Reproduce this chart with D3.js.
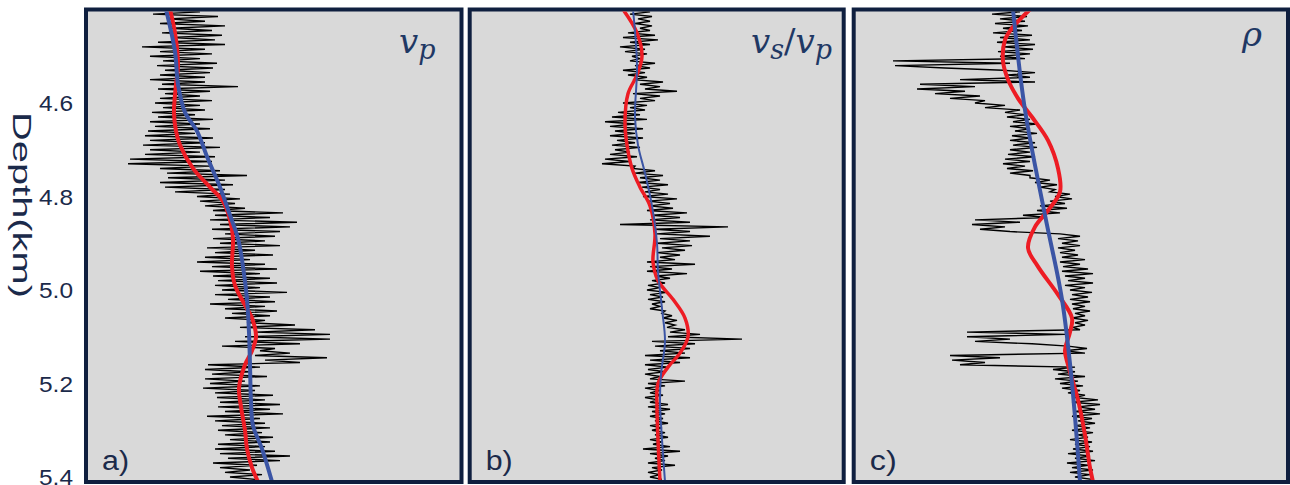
<!DOCTYPE html>
<html>

<head>
  <meta charset="utf-8" />
  <title>Well logs</title>
  <style>
    body {
      margin: 0;
      background: #fff;
    }

    .frame {
      fill: #d9d9d9;
      stroke: #0f1f3f;
      stroke-width: 4px;
    }

    .log {
      fill: none;
      stroke: #000;
      stroke-width: 1.4px;
    }

    .math {
      font-family: "DejaVu Serif", serif;
      font-style: italic;
      fill: #1f3864;
    }

    .plabel {
      font-family: "Liberation Sans", Arial, sans-serif;
      font-size: 27px;
      fill: #1b2a4a;
    }
  </style>
  <script src="https://cdnjs.cloudflare.com/ajax/libs/d3/7.8.5/d3.min.js"></script>
</head>

<body>
  <div id="chart"></div>
  <script>
    // depth ticks (km)
    var depthTicks = [4.6, 4.8, 5.0, 5.2, 5.4];
    // log samples every 10 m from 4.40 km, left / right excursion of the trace
    var logDepth = d3.range(101).map(i => +(4.40 + i * 0.01).toFixed(2));

    var vpLo = [2.78, 2.66, 2.81, 2.73, 2.83, 2.75, 2.85, 2.71, 2.55, 2.73, 2.63, 2.76, 2.70, 2.78, 2.73, 2.63, 2.75, 2.71, 2.78, 2.73,
      2.68, 2.76, 2.65, 2.71, 2.63, 2.68, 2.61, 2.58, 2.63, 2.56, 2.63, 2.58, 2.43, 2.41, 2.73, 2.80, 2.81, 2.73, 2.78, 2.88,
      3.10, 3.13, 3.18, 3.26, 3.28, 3.23, 3.33, 3.25, 3.38, 3.26, 3.33, 3.20, 3.28, 3.18, 3.10, 3.25, 3.13, 3.26, 3.31, 3.28,
      3.35, 3.28, 3.41, 3.23, 3.38, 3.45, 3.38, 3.60, 3.53, 3.68, 3.58, 3.48, 3.35, 3.73, 3.68, 3.78, 3.21, 3.18, 3.25, 3.18,
      3.23, 3.16, 3.28, 3.30, 3.33, 3.31, 3.38, 3.20, 3.28, 3.35, 3.31, 3.38, 3.43, 3.31, 3.28, 3.33, 3.41, 3.26, 3.33, 3.38, 3.43];
    var vpHi = [3.13, 3.31, 3.18, 3.38, 3.25, 3.35, 3.28, 3.38, 3.18, 3.25, 3.13, 3.30, 3.26, 3.23, 3.18, 3.18, 3.51, 3.23, 3.13, 3.25,
      3.13, 3.18, 3.08, 3.26, 3.13, 3.23, 3.08, 3.26, 3.18, 3.33, 3.13, 3.28, 3.25, 3.23, 3.33, 3.60, 3.38, 3.46, 3.38, 3.43,
      3.53, 3.48, 3.58, 3.96, 3.83, 4.10, 4.03, 3.93, 3.88, 3.78, 3.93, 3.68, 3.86, 3.63, 3.78, 3.90, 3.73, 3.83, 3.90, 3.73,
      4.00, 3.83, 3.88, 3.78, 3.90, 3.83, 3.78, 4.08, 4.28, 4.43, 4.43, 4.13, 3.88, 4.03, 4.40, 4.13, 3.73, 3.63, 3.80, 3.58,
      3.73, 3.68, 3.86, 3.78, 3.93, 3.83, 3.96, 3.73, 3.78, 3.83, 3.75, 3.86, 3.83, 3.78, 3.88, 4.03, 3.93, 3.70, 3.63, 3.75, 3.68];

    var vsvpLo = [0.509, 0.509, 0.517, 0.514, 0.519, 0.507, 0.502, 0.509, 0.499, 0.504, 0.511, 0.509, 0.514, 0.502, 0.507, 0.512, 0.519, 0.524, 0.512, 0.519,
      0.502, 0.509, 0.497, 0.491, 0.484, 0.489, 0.494, 0.489, 0.496, 0.491, 0.494, 0.489, 0.484, 0.481, 0.512, 0.514, 0.519, 0.517, 0.521, 0.524,
      0.522, 0.527, 0.529, 0.526, 0.531, 0.529, 0.499, 0.534, 0.536, 0.539, 0.536, 0.541, 0.536, 0.539, 0.526, 0.529, 0.526, 0.534, 0.531, 0.527,
      0.526, 0.529, 0.527, 0.531, 0.529, 0.541, 0.542, 0.544, 0.546, 0.549, 0.547, 0.531, 0.534, 0.539, 0.524, 0.529, 0.524, 0.527, 0.524, 0.529,
      0.527, 0.524, 0.529, 0.524, 0.529, 0.527, 0.531, 0.529, 0.534, 0.529, 0.531, 0.534, 0.529, 0.532, 0.522, 0.529, 0.534, 0.527, 0.531, 0.527, 0.529];
    var vsvpHi = [0.529, 0.531, 0.529, 0.531, 0.529, 0.534, 0.537, 0.529, 0.524, 0.526, 0.519, 0.534, 0.529, 0.524, 0.526, 0.542, 0.539, 0.556, 0.539, 0.534,
      0.526, 0.524, 0.519, 0.526, 0.514, 0.522, 0.514, 0.522, 0.514, 0.519, 0.509, 0.516, 0.509, 0.514, 0.534, 0.542, 0.539, 0.547, 0.539, 0.547,
      0.556, 0.549, 0.552, 0.566, 0.559, 0.569, 0.607, 0.569, 0.589, 0.569, 0.571, 0.564, 0.559, 0.554, 0.574, 0.551, 0.566, 0.549, 0.544, 0.539,
      0.546, 0.542, 0.544, 0.539, 0.544, 0.551, 0.556, 0.554, 0.564, 0.579, 0.621, 0.574, 0.569, 0.564, 0.569, 0.559, 0.547, 0.544, 0.539, 0.564,
      0.544, 0.539, 0.542, 0.537, 0.547, 0.549, 0.544, 0.542, 0.547, 0.541, 0.544, 0.547, 0.541, 0.549, 0.559, 0.547, 0.544, 0.554, 0.541, 0.539, 0.541];

    var rhoLo = [1.990, 1.984, 2.000, 1.990, 2.006, 1.986, 2.000, 1.994, 2.006, 1.996, 2.000, 1.786, 1.790, 2.006, 2.016, 1.920, 1.840, 1.834, 1.870, 1.900,
      1.950, 1.970, 2.010, 2.014, 2.026, 2.020, 2.030, 2.024, 2.020, 2.026, 2.020, 2.016, 2.010, 2.006, 2.014, 2.020, 2.060, 2.070, 2.080, 2.100,
      2.110, 2.100, 2.080, 2.074, 2.046, 1.950, 1.944, 1.960, 2.120, 2.116, 2.124, 2.116, 2.120, 2.124, 2.120, 2.126, 2.124, 2.130, 2.136, 2.130,
      2.140, 2.144, 2.140, 2.144, 2.146, 2.150, 2.144, 2.150, 2.146, 1.934, 1.934, 1.950, 2.136, 2.130, 1.900, 1.904, 1.920, 2.106, 2.116, 2.110,
      2.120, 2.124, 2.136, 2.150, 2.144, 2.156, 2.150, 2.144, 2.156, 2.150, 2.144, 2.156, 2.140, 2.150, 2.146, 2.136, 2.150, 2.134, 2.144, 2.140, 2.150];
    var rhoHi = [2.040, 2.054, 2.050, 2.056, 2.044, 2.064, 2.060, 2.070, 2.066, 2.060, 2.050, 2.020, 1.890, 2.070, 2.060, 2.070, 1.950, 1.930, 1.960, 1.970,
      2.010, 2.040, 2.050, 2.060, 2.074, 2.060, 2.074, 2.060, 2.070, 2.074, 2.060, 2.070, 2.060, 2.050, 2.066, 2.060, 2.100, 2.114, 2.110, 2.140,
      2.144, 2.130, 2.134, 2.120, 2.094, 2.040, 2.010, 2.020, 2.160, 2.156, 2.160, 2.150, 2.156, 2.170, 2.160, 2.176, 2.186, 2.170, 2.186, 2.170,
      2.184, 2.176, 2.180, 2.170, 2.180, 2.170, 2.176, 2.170, 2.160, 2.130, 2.020, 2.064, 2.174, 2.170, 2.000, 1.970, 2.150, 2.150, 2.170, 2.156,
      2.166, 2.160, 2.170, 2.196, 2.200, 2.190, 2.200, 2.184, 2.190, 2.180, 2.186, 2.176, 2.184, 2.180, 2.186, 2.180, 2.190, 2.176, 2.186, 2.180, 2.184];

    // smooth models [depth km, value]
    var vpRed = [[4.40, 2.83], [4.45, 2.88], [4.52, 2.91], [4.56, 2.89], [4.62, 2.87], [4.66, 2.89], [4.69, 2.93], [4.74, 3.06],
      [4.78, 3.23], [4.81, 3.36], [4.85, 3.43], [4.89, 3.46], [4.95, 3.45], [4.99, 3.48], [5.04, 3.60], [5.06, 3.65], [5.10, 3.69],
      [5.13, 3.65], [5.16, 3.58], [5.21, 3.52], [5.25, 3.54], [5.30, 3.58], [5.34, 3.60], [5.38, 3.65], [5.41, 3.71]];
    var vpBlue = [[4.40, 2.79], [4.49, 2.88], [4.56, 2.91], [4.62, 2.98], [4.66, 3.10], [4.72, 3.21], [4.78, 3.33], [4.84, 3.43],
      [4.89, 3.51], [4.95, 3.56], [5.02, 3.60], [5.09, 3.62], [5.16, 3.63], [5.24, 3.64], [5.29, 3.66], [5.34, 3.75], [5.41, 3.85]];

    var vsvpRed = [[4.40, 0.502], [4.45, 0.516], [4.50, 0.521], [4.54, 0.516], [4.58, 0.507], [4.64, 0.504], [4.69, 0.506],
      [4.74, 0.511], [4.78, 0.519], [4.82, 0.529], [4.88, 0.534], [4.94, 0.532], [4.98, 0.537], [5.02, 0.552], [5.06, 0.564],
      [5.10, 0.567], [5.135, 0.559], [5.165, 0.547], [5.20, 0.537], [5.25, 0.536], [5.32, 0.537], [5.41, 0.539]];
    var vsvpBlue = [[4.40, 0.512], [4.52, 0.516], [4.63, 0.514], [4.69, 0.517], [4.75, 0.524], [4.82, 0.531], [4.90, 0.536],
      [4.96, 0.537], [5.04, 0.541], [5.11, 0.544], [5.18, 0.540], [5.24, 0.539], [5.32, 0.541], [5.41, 0.544]];

    var rhoRed = [[4.40, 2.060], [4.44, 2.024], [4.465, 2.010], [4.51, 2.006], [4.55, 2.016], [4.59, 2.036], [4.63, 2.064],
      [4.68, 2.096], [4.74, 2.116], [4.79, 2.120], [4.83, 2.096], [4.865, 2.070], [4.91, 2.056], [4.95, 2.076], [5.01, 2.116],
      [5.06, 2.144], [5.09, 2.140], [5.13, 2.130], [5.16, 2.136], [5.235, 2.156], [5.31, 2.170], [5.38, 2.180], [5.41, 2.186]];
    var rhoBlue = [[4.40, 2.026], [4.615, 2.050], [4.84, 2.090], [5.02, 2.124], [5.20, 2.144], [5.41, 2.160]];

    var panels = [
      { lo: vpLo, hi: vpHi, red: vpRed, blue: vpBlue, domain: [2.0, 5.75], range: [87, 462], frame: [86, 461.5], redW: 4, blueW: 4, tag: 'a)' },
      { lo: vsvpLo, hi: vsvpHi, red: vsvpRed, blue: vsvpBlue, domain: [0.35, 0.72], range: [471, 841], frame: [469.7, 843.7], redW: 3.5, blueW: 2, tag: 'b)' },
      { lo: rhoLo, hi: rhoHi, red: rhoRed, blue: rhoBlue, domain: [1.71, 2.57], range: [855, 1285], frame: [853.7, 1288], redW: 4, blueW: 4, tag: 'c)' }
    ];

    var W = 1290, H = 485;
    var frameTop = 9.5, frameBottom = 482;

    var svg = d3.select('#chart').append('svg')
      .attr('width', W)
      .attr('height', H);

    var y = d3.scaleLinear()
      .domain([4.4, 5.4])
      .range([9.5, 477]);

    panels.forEach(function (p, k) {
      var x = d3.scaleLinear().domain(p.domain).range(p.range);
      var g = svg.append('g');

      g.append('rect')
        .attr('class', 'frame')
        .attr('x', p.frame[0])
        .attr('y', frameTop)
        .attr('width', p.frame[1] - p.frame[0])
        .attr('height', frameBottom - frameTop);

      var clipId = 'clip' + k;
      svg.append('clipPath').attr('id', clipId)
        .append('rect')
        .attr('x', p.frame[0] + 2)
        .attr('y', frameTop + 2)
        .attr('width', p.frame[1] - p.frame[0] - 4)
        .attr('height', frameBottom - frameTop - 4);

      var inner = g.append('g').attr('clip-path', 'url(#' + clipId + ')');

      // zig-zag the trace between the left and right excursions
      var trace = [];
      logDepth.forEach(function (d, i) {
        trace.push([d, p.lo[i]]);
        trace.push([d + 0.005, p.hi[i]]);
      });

      var logLine = d3.line()
        .x(d => x(d[1]))
        .y(d => y(d[0]));

      inner.append('path')
        .attr('class', 'log')
        .attr('d', logLine(trace));

      var smooth = d3.line()
        .x(d => x(d[1]))
        .y(d => y(d[0]))
        .curve(d3.curveCatmullRom.alpha(0.5));

      inner.append('path')
        .attr('d', smooth(p.red))
        .attr('fill', 'none')
        .attr('stroke', '#ed1c24')
        .attr('stroke-width', p.redW);

      inner.append('path')
        .attr('d', smooth(p.blue))
        .attr('fill', 'none')
        .attr('stroke', '#3b55a5')
        .attr('stroke-width', p.blueW);

      g.append('text')
        .attr('class', 'plabel')
        .attr('x', p.frame[0] + 16)
        .attr('y', 470)
        .attr('textLength', 27)
        .attr('lengthAdjust', 'spacingAndGlyphs')
        .text(p.tag);
    });

    // property names
    var t1 = svg.append('text').attr('class', 'math').attr('x', 399).attr('y', 53).style('font-size', '34px');
    t1.append('tspan').text('v');
    t1.append('tspan').attr('dy', 6).style('font-size', '27px').text('p');

    var t2 = svg.append('text').attr('class', 'math').attr('x', 751).attr('y', 53).style('font-size', '34px');
    t2.append('tspan').text('v');
    t2.append('tspan').attr('dy', 6).style('font-size', '27px').text('s');
    t2.append('tspan').attr('dy', -6).style('font-style', 'normal').text('/');
    t2.append('tspan').text('v');
    t2.append('tspan').attr('dy', 6).style('font-size', '27px').text('p');

    svg.append('text').attr('class', 'math')
      .attr('x', 1242).attr('y', 46)
      .style('font-size', '34px')
      .text('\u03c1');

    // depth axis
    var yAxis = d3.axisLeft(y)
      .tickValues(depthTicks)
      .tickFormat(d3.format('.1f'))
      .tickSize(0)
      .tickPadding(0);

    var ax = svg.append('g')
      .attr('transform', 'translate(73,0)')
      .call(yAxis);
    ax.select('.domain').remove();
    ax.selectAll('.tick text')
      .attr('dy', '0.35em')
      .attr('textLength', 34)
      .attr('lengthAdjust', 'spacingAndGlyphs')
      .style('font-family', '"Liberation Sans", Arial, sans-serif')
      .style('font-size', '22px')
      .style('fill', '#1b2a4a');

    svg.append('text')
      .attr('transform', 'translate(13,112) rotate(90)')
      .attr('textLength', 186)
      .attr('lengthAdjust', 'spacingAndGlyphs')
      .style('font-family', '"Liberation Sans", Arial, sans-serif')
      .style('font-size', '25px')
      .style('fill', '#1b2a4a')
      .text('Depth(km)');
  </script>
</body>

</html>
